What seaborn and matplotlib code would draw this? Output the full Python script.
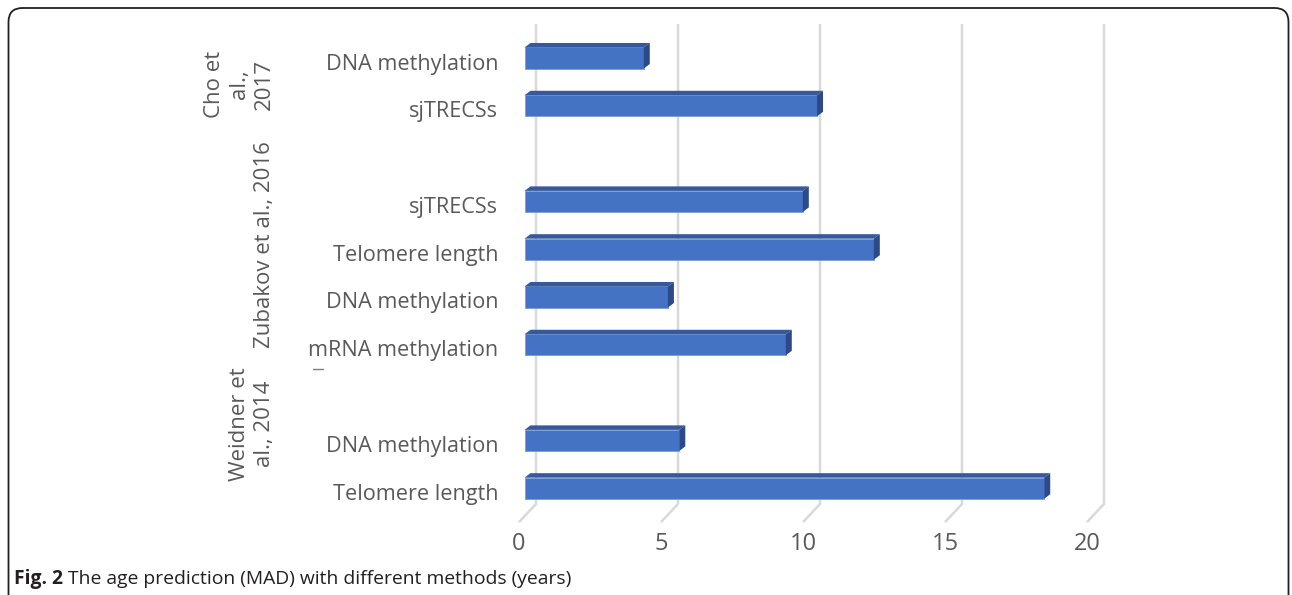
import matplotlib
matplotlib.use("Agg")
import matplotlib.pyplot as plt
import matplotlib.transforms as mtransforms
from matplotlib.patches import Polygon, FancyBboxPatch
import pandas as pd
import seaborn as sns

# Rows from top to bottom, blank rows separate the studies
methods = ["DNA methylation", "sjTRECSs", "", "sjTRECSs", "Telomere length",
           "DNA methylation", "mRNA methylation", "", "DNA methylation", "Telomere length"]
mad_years = [4.2, 10.3, None, 9.8, 12.3, 5.05, 9.2, None, 5.45, 18.3]
studies = ["Cho et\nal.,\n2017", "Zubakov et al., 2016", "Weidner et\nal., 2014"]
study_label_y = [0.55, 3.9, 7.65]
x_ticks = [0, 5, 10, 15, 20]

sns.set_style("white")
plt.rcParams["font.family"] = ["Open Sans", "DejaVu Sans"]

slots = ["row%d" % i for i in range(len(methods))]
df = pd.DataFrame({"slot": slots, "mad": mad_years}).dropna()

fig = plt.figure(figsize=(12.92, 5.95), dpi=100)
ax = fig.add_axes([515 / 1292, 70 / 595, 600 / 1292, 505 / 595])

sns.barplot(data=df, x="mad", y="slot", order=slots, orient="h",
            color="#4472C4", saturation=1, width=0.44, errorbar=None,
            edgecolor="#7F9BD6", linewidth=0.6, ax=ax, zorder=3)

# 3D look: top and right side faces
dx, dy = 6 / 28.4, 4.5 / 47.8
for p in list(ax.patches):
    x0, w, y0, h = p.get_x(), p.get_width(), p.get_y(), p.get_height()
    if w <= 0:
        continue
    top = Polygon([(x0, y0), (x0 + dx, y0 - dy), (x0 + w + dx, y0 - dy), (x0 + w, y0)],
                  closed=True, facecolor="#35599C", edgecolor="none", zorder=3)
    side = Polygon([(x0 + w, y0), (x0 + w + dx, y0 - dy), (x0 + w + dx, y0 + h - dy), (x0 + w, y0 + h)],
                   closed=True, facecolor="#2C4B86", edgecolor="none", zorder=3)
    ax.add_patch(top)
    ax.add_patch(side)

ax.set_xlim(-9.5 / 28.4, 590.5 / 28.4)
ax.set_ylim(9.77, -0.795)

# gridlines on the back wall with a slanted floor segment
back, front = 11.5 / 28.4, -5.5 / 28.4
for v in x_ticks:
    ax.plot([v + back, v + back, v + front], [-0.71, 9.33, 9.71],
            color="#D9D9D9", lw=1.8, zorder=0, clip_on=False, solid_capstyle="butt")

for s in ax.spines.values():
    s.set_visible(False)

ax.set_xticks(x_ticks)
ax.set_xticklabels([str(v) for v in x_ticks])
ax.tick_params(axis="x", length=0, pad=5, labelsize=17, labelcolor="#595959")
xshift = mtransforms.ScaledTranslation(-0.055, 0, fig.dpi_scale_trans)
for lab in ax.get_xticklabels():
    lab.set_transform(lab.get_transform() + xshift)

ax.set_yticks(range(len(methods)))
ax.set_yticklabels(methods)
ax.tick_params(axis="y", length=0, pad=12, labelsize=15.6, labelcolor="#595959")
yshift = mtransforms.ScaledTranslation(0, -0.035, fig.dpi_scale_trans)
for lab in ax.get_yticklabels():
    lab.set_transform(lab.get_transform() + yshift)
ax.set_xlabel("")
ax.set_ylabel("")

blend = mtransforms.blended_transform_factory(ax.transAxes, ax.transData)
for name, yc in zip(studies, study_label_y):
    ax.text(-0.4, yc, name, transform=blend, rotation=90, ha="right", va="center",
            multialignment="center", fontsize=16, color="#595959", linespacing=1.25)
ax.plot([-0.337, -0.32], [6.5, 6.5], transform=blend, color="#7F7F7F", lw=1, clip_on=False)

# frame with rounded corners
frame = FancyBboxPatch((8.5, -40), 1280, 587 + 40,
                       boxstyle="round,pad=0,rounding_size=14",
                       transform=mtransforms.IdentityTransform(),
                       facecolor="none", edgecolor="#231F20", lw=1.3)
fig.add_artist(frame)

# caption: bold figure number followed by the plain title
t1 = fig.text(14 / 1292, 11 / 595, "Fig. 2", fontsize=13.9, fontweight="bold",
              color="#231F20", va="baseline")
fig.canvas.draw()
bb = t1.get_window_extent()
fig.text((bb.x1 + 5) / 1292, 11 / 595, "The age prediction (MAD) with different methods (years)",
         fontsize=13.9, color="#231F20", va="baseline")

fig.savefig("out.png", dpi=100)
